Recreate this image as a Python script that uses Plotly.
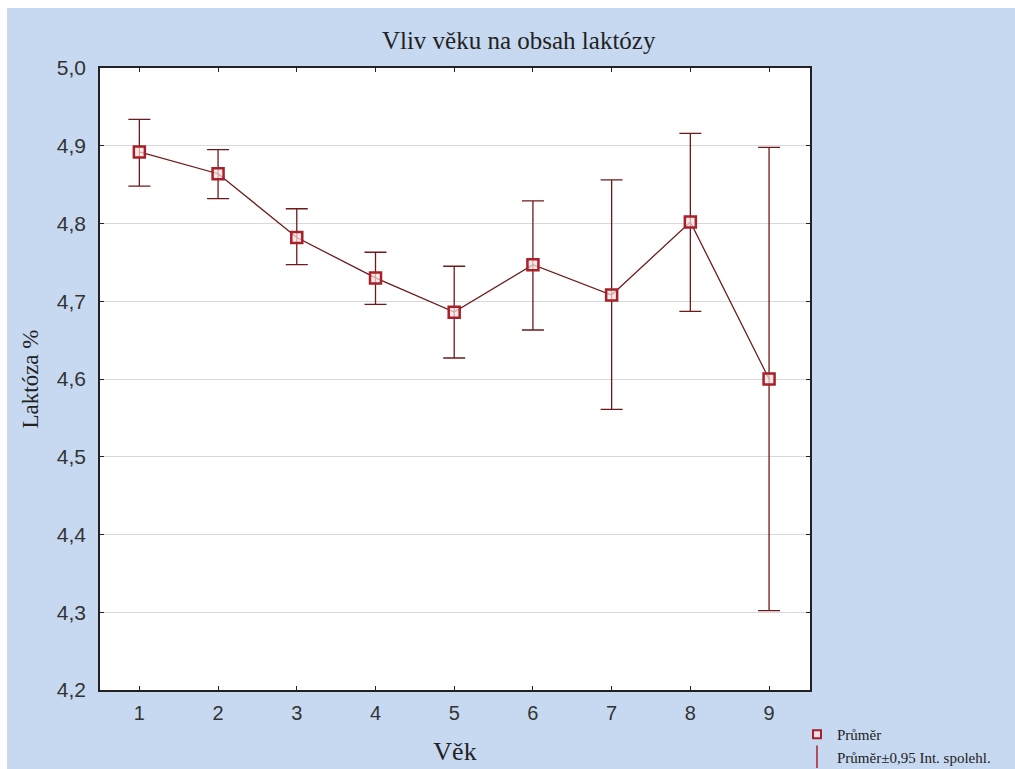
import plotly.graph_objects as go

vek = [1, 2, 3, 4, 5, 6, 7, 8, 9]
prumer = [4.892, 4.864, 4.782, 4.730, 4.686, 4.747, 4.708, 4.802, 4.600]
horni = [4.934, 4.895, 4.819, 4.763, 4.745, 4.829, 4.856, 4.916, 4.898]
dolni = [4.848, 4.832, 4.747, 4.696, 4.627, 4.663, 4.561, 4.687, 4.302]
y_ticks = [4.2, 4.3, 4.4, 4.5, 4.6, 4.7, 4.8, 4.9, 5.0]

err_plus = [h - p for h, p in zip(horni, prumer)]
err_minus = [p - d for p, d in zip(prumer, dolni)]

DARK = "#6e1a1a"
RED = "#a8202a"
BLUE = "#c6d9f0"
SERIF = "Liberation Serif, Times New Roman, serif"
SANS = "Liberation Sans, Arial, sans-serif"

fig = go.Figure()
fig.add_trace(go.Scatter(
    x=vek, y=prumer, mode="lines+markers",
    line=dict(color=DARK, width=1.3),
    marker=dict(symbol="square", size=11, color="rgba(255,225,225,0.7)",
                line=dict(color=RED, width=2.5)),
    error_y=dict(type="data", symmetric=False, array=err_plus, arrayminus=err_minus,
                 color=DARK, thickness=1.3, width=11),
    showlegend=False,
))
# legend entries
fig.add_trace(go.Scatter(
    x=[None], y=[None], mode="markers", name="Průměr",
    marker=dict(symbol="square", size=8, color="rgba(255,225,225,0.7)",
                line=dict(color=RED, width=2)),
))
fig.add_trace(go.Scatter(
    x=[None], y=[None], mode="markers", name="Průměr±0,95 Int. spolehl.",
    marker=dict(symbol="line-ns", size=16, line=dict(color=RED, width=1.5)),
))

W, H = 1015, 769
PL, PR, PT, PB = 100, 810, 68, 690

fig.update_layout(
    width=W, height=H,
    paper_bgcolor=BLUE, plot_bgcolor="white",
    separators=", ",
    margin=dict(l=PL, r=W - PR, t=PT, b=H - PB, autoexpand=False),
    title=dict(text="Vliv věku na obsah laktózy", x=0.511, xref="container",
               y=1 - 40 / H, yref="container", xanchor="center", yanchor="middle",
               font=dict(family=SERIF, size=25, color="#222222")),
    xaxis=dict(range=[0.5, 9.52], tickmode="array", tickvals=vek, automargin=False,
               ticks="inside", ticklen=4, tickcolor="#222", mirror="ticks",
               showline=True, linecolor="#222", linewidth=1.5,
               showgrid=False, zeroline=False, ticklabelstandoff=4,
               tickfont=dict(family=SANS, size=20, color="#333"),
               title=dict(text="Věk", font=dict(family=SERIF, size=26, color="#222"),
                          standoff=19)),
    yaxis=dict(range=[4.2, 5.0], tickmode="array", tickvals=y_ticks, tickformat=".1f",
               automargin=False,
               ticks="inside", ticklen=4, tickcolor="#222", mirror="ticks",
               showline=True, linecolor="#222", linewidth=1.5,
               showgrid=True, gridcolor="#d9d9d9", gridwidth=1, zeroline=False,
               ticklabelstandoff=8,
               tickfont=dict(family=SANS, size=21, color="#333"),
               title=dict(text="Laktóza %", font=dict(family=SERIF, size=23, color="#222"),
                          standoff=12)),
    legend=dict(x=797 / W, xref="container", xanchor="left",
                y=1 - 718 / H, yref="container", yanchor="top",
                bgcolor="rgba(0,0,0,0)", font=dict(family=SERIF, size=15, color="#222"),
                tracegroupgap=0, itemwidth=30),
    shapes=[
        dict(type="rect", xref="paper", yref="paper", x0=-0.3, x1=1.4,
             y0=(PB - 8) / (PB - PT), y1=1.3, fillcolor="white", line=dict(width=0),
             layer="below"),
        dict(type="rect", xref="paper", yref="paper", x0=-0.3, x1=(7 - PL) / (PR - PL),
             y0=-0.3, y1=1.3, fillcolor="white", line=dict(width=0), layer="below"),
    ],
)

fig.write_html(
    "out.html", config={"displayModeBar": False},
    post_script=("document.body.style.margin='0';"
                 "document.body.style.overflow='hidden';"
                 "document.documentElement.style.overflow='hidden';"),
)
